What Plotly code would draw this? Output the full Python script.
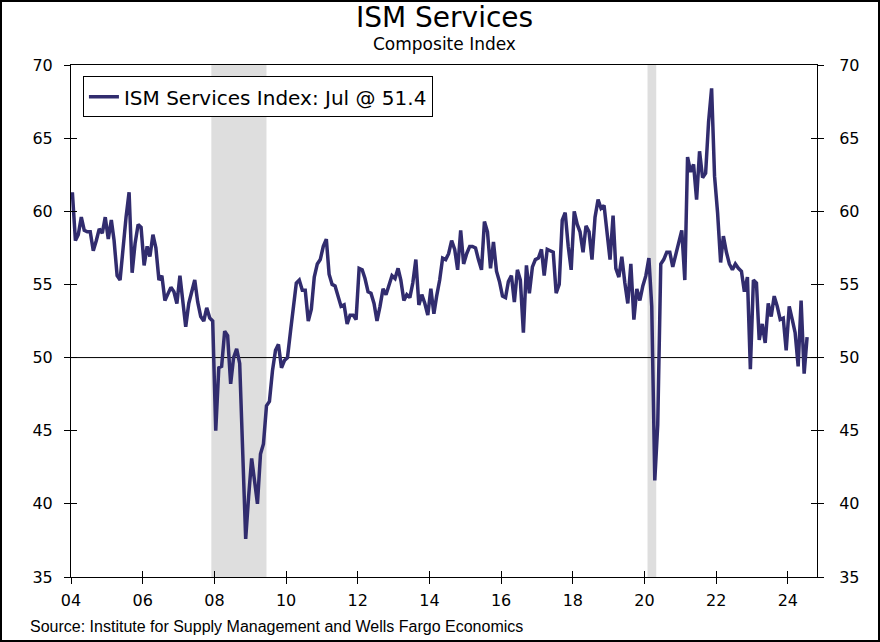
import pandas as pd
import plotly.graph_objects as go

# ---------------- data ----------------
start_month = "2004-01-01"
ism_2004 = [61.3, 58.0, 58.4, 59.6, 58.7, 58.6, 58.6, 57.3, 58.0, 58.8, 58.5, 59.6]
ism_2005 = [58.1, 59.4, 58.0, 55.6, 55.3, 57.7, 59.6, 61.3, 55.8, 57.8, 59.1, 58.9]
ism_2006 = [56.3, 57.6, 56.9, 58.4, 57.5, 55.3, 55.6, 53.9, 54.4, 54.8, 54.5, 53.7]
ism_2007 = [55.6, 53.8, 52.1, 53.7, 54.5, 55.3, 53.8, 52.8, 52.5, 53.4, 52.7, 52.5]
ism_2008 = [45.0, 49.3, 49.4, 51.8, 51.5, 48.2, 50.0, 50.6, 49.6, 44.0, 37.6, 40.5]
ism_2009 = [43.1, 41.5, 40.0, 43.4, 44.1, 46.7, 47.0, 49.1, 50.5, 50.9, 49.3, 49.8]
ism_2010 = [50.0, 51.8, 53.2, 55.1, 55.3, 54.6, 54.6, 52.5, 53.3, 55.5, 56.4, 56.7]
ism_2011 = [57.6, 58.1, 55.7, 55.0, 54.9, 54.2, 53.5, 53.6, 52.3, 52.9, 52.9, 52.6]
ism_2012 = [56.1, 56.0, 55.4, 54.5, 54.4, 53.7, 52.5, 53.5, 54.7, 54.3, 55.0, 55.6]
ism_2013 = [55.4, 56.1, 55.3, 53.9, 54.3, 54.1, 55.1, 56.7, 53.6, 54.3, 53.7, 52.9]
ism_2014 = [54.7, 53.0, 54.2, 55.3, 56.8, 56.7, 57.1, 58.0, 57.4, 56.0, 58.7, 56.4]
ism_2015 = [57.1, 57.6, 57.6, 57.5, 56.7, 56.0, 59.3, 58.6, 56.1, 57.9, 55.9, 55.2]
ism_2016 = [54.2, 54.1, 55.2, 55.6, 53.8, 56.0, 55.3, 51.7, 56.3, 54.4, 56.2, 56.7]
ism_2017 = [56.8, 57.4, 55.6, 57.4, 57.3, 57.2, 54.4, 55.0, 59.4, 59.9, 57.6, 56.0]
ism_2018 = [60.0, 59.1, 58.6, 57.2, 59.0, 58.6, 56.7, 59.6, 60.8, 60.2, 60.4, 58.3]
ism_2019 = [56.7, 59.7, 56.1, 55.5, 56.9, 55.1, 53.7, 56.4, 52.6, 54.7, 53.9, 54.9]
ism_2020 = [55.6, 56.8, 53.5, 41.6, 45.4, 56.4, 56.7, 57.2, 57.2, 56.2, 57.1, 58.0]
ism_2021 = [58.7, 55.3, 63.7, 62.7, 63.2, 60.8, 64.1, 62.3, 62.6, 66.1, 68.4, 62.4]
ism_2022 = [59.9, 56.5, 58.3, 57.2, 56.4, 56.0, 56.4, 56.1, 55.9, 54.5, 55.5, 49.2]
ism_2023 = [55.3, 55.1, 51.2, 52.3, 51.0, 53.7, 52.8, 54.2, 53.5, 52.6, 52.7, 50.5]
ism_2024 = [53.5, 52.6, 51.7, 49.4, 53.9, 48.9, 51.4]

recession_starts = ["2007-12-01", "2020-02-01"]
recession_ends = ["2009-06-15", "2020-04-30"]

x_tick_labels = ["04", "06", "08", "10", "12", "14", "16", "18", "20", "22", "24"]
y_ticks = [35, 40, 45, 50, 55, 60, 65, 70]

series_name = "ISM Services Index: Jul @ 51.4"
title_text = "ISM Services"
subtitle_text = "Composite Index"
source_text = "Source: Institute for Supply Management and Wells Fargo Economics"

# ---------------- build ----------------
values = (ism_2004 + ism_2005 + ism_2006 + ism_2007 + ism_2008 + ism_2009 + ism_2010
          + ism_2011 + ism_2012 + ism_2013 + ism_2014 + ism_2015 + ism_2016 + ism_2017
          + ism_2018 + ism_2019 + ism_2020 + ism_2021 + ism_2022 + ism_2023 + ism_2024)
dates = pd.date_range(start_month, periods=len(values), freq="MS") + pd.Timedelta(days=14)
tick_dates = pd.date_range(start_month, periods=len(x_tick_labels), freq="24MS")

LINE_COLOR = "#312c6e"
FONT = "DejaVu Sans, Verdana, sans-serif"

fig = go.Figure()
fig.add_trace(go.Scatter(x=dates, y=values, mode="lines", name=series_name,
                         line=dict(color=LINE_COLOR, width=3.5), showlegend=True))
# helper (invisible) traces so the overlay axes used for crossing ticks get drawn
for xa, ya in [("x2", "y"), ("x", "y2"), ("x", "y3")]:
    fig.add_trace(go.Scatter(x=dates, y=values, mode="lines", xaxis=xa, yaxis=ya,
                             line=dict(color="rgba(0,0,0,0)", width=0),
                             showlegend=False, hoverinfo="skip"))

for s, e in zip(recession_starts, recession_ends):
    fig.add_vrect(x0=s, x1=e, fillcolor="#dedede", opacity=1, line_width=0, layer="below")

fig.add_hline(y=50, line_color="black", line_width=1, layer="below")

xr = [start_month, "2024-10-24"]
axis_font = dict(family=FONT, size=16, color="black")

fig.update_layout(
    width=880, height=642,
    margin=dict(l=71, r=63, t=65, b=65),
    paper_bgcolor="white", plot_bgcolor="white",
    font=dict(family=FONT, color="black"),
    xaxis=dict(range=xr, type="date", tickvals=tick_dates, ticktext=x_tick_labels,
               ticks="outside", ticklen=6, tickwidth=1, tickcolor="black",
               showline=True, linecolor="black", linewidth=1, mirror=True,
               showgrid=False, zeroline=False, tickfont=axis_font,
               ticklabelstandoff=3),
    xaxis2=dict(range=xr, type="date", overlaying="x", matches="x", side="bottom",
                anchor="y", tickvals=tick_dates, ticks="inside", ticklen=6,
                tickcolor="black", showticklabels=False, showline=False,
                showgrid=False, zeroline=False),
    yaxis=dict(range=[35, 70], tickvals=y_ticks, ticks="outside", ticklen=6,
               tickcolor="black", showline=True, linecolor="black", linewidth=1,
               mirror=True, showgrid=False, zeroline=False, tickfont=axis_font,
               ticklabelstandoff=8),
    yaxis2=dict(range=[35, 70], overlaying="y", matches="y", side="right", anchor="x",
                tickvals=y_ticks, ticks="outside", ticklen=6, tickcolor="black",
                showline=False, showgrid=False, zeroline=False, tickfont=axis_font,
                ticklabelstandoff=12),
    yaxis3=dict(range=[35, 70], overlaying="y", matches="y", side="left", anchor="x",
                tickvals=y_ticks, ticks="inside", ticklen=6, tickcolor="black",
                mirror="ticks", showticklabels=False, showline=False,
                showgrid=False, zeroline=False),
    legend=dict(x=0.016, y=0.978, xanchor="left", yanchor="top",
                bgcolor="white", bordercolor="black", borderwidth=1,
                font=dict(family=FONT, size=20, color="black")),
    showlegend=True,
)

fig.add_annotation(text=title_text, xref="paper", yref="paper", x=0.5, y=1 + 48 / 512,
                   xanchor="center", yanchor="middle", showarrow=False,
                   font=dict(family=FONT, size=28, color="black"))
fig.add_annotation(text=subtitle_text, xref="paper", yref="paper", x=0.5, y=1 + 21 / 512,
                   xanchor="center", yanchor="middle", showarrow=False,
                   font=dict(family=FONT, size=17, color="black"))
fig.add_annotation(text=source_text, xref="paper", yref="paper", x=-43 / 746, y=-49 / 512,
                   xanchor="left", yanchor="middle", showarrow=False,
                   font=dict(family="Liberation Sans, Arial, sans-serif",
                             size=16, color="black"))
# outer frame of the graphic
fig.add_shape(type="rect", xref="paper", yref="paper",
              x0=-71 / 746, x1=1 + 63 / 746, y0=-65 / 512, y1=1 + 65 / 512,
              line=dict(color="black", width=4), fillcolor="rgba(0,0,0,0)", layer="above")

fig.write_html("out.html", config={"displayModeBar": False},
               post_script="document.body.style.margin='0';document.body.style.overflow='hidden';")
